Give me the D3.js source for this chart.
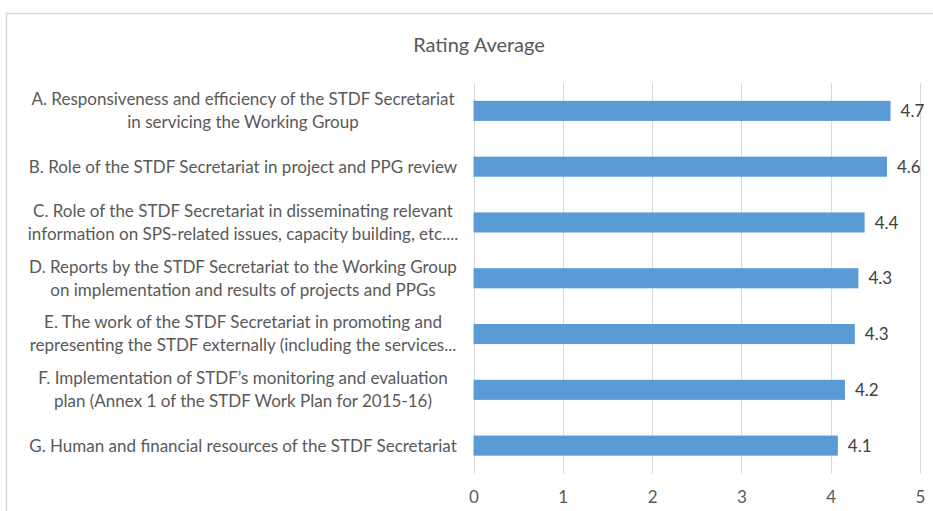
<!DOCTYPE html>
<html><head><meta charset="utf-8">
<script src="https://cdn.jsdelivr.net/npm/d3@7"></script>
<style>body{margin:0;background:#fff}svg{display:block}text{font-family:Lato,"Open Sans",sans-serif}</style>
</head><body><svg id="c" width="933" height="511"></svg>
<script>
const title = "Rating Average";
const categories = [
  "A. Responsiveness and efficiency of the STDF Secretariat\nin servicing the Working Group",
  "B. Role of the STDF Secretariat in project and PPG review",
  "C. Role of the STDF Secretariat in disseminating relevant\ninformation on SPS-related issues, capacity building, etc....",
  "D. Reports by the STDF Secretariat to the Working Group\non implementation and results of projects and PPGs",
  "E. The work of the STDF Secretariat in promoting and\nrepresenting the STDF externally (including the services...",
  "F. Implementation of STDF\u2019s monitoring and evaluation\nplan (Annex 1 of the STDF Work Plan for 2015-16)",
  "G. Human and financial resources of the STDF Secretariat"
];
const values = [4.67, 4.63, 4.38, 4.31, 4.27, 4.16, 4.08];
const valueLabels = ["4.7", "4.6", "4.4", "4.3", "4.3", "4.2", "4.1"];
const xTicks = [0, 1, 2, 3, 4, 5];

const svg = d3.select("#c");
svg.append("rect").attr("x", 6.5).attr("y", 13.5).attr("width", 940).attr("height", 520)
  .attr("fill", "#fff").attr("stroke", "#d9d9d9").attr("stroke-width", 1.5);

const m = {left: 473.5, right: 920, top: 83, bottom: 473.5};
const x = d3.scaleLinear().domain([0, 5]).range([m.left, m.right]);
const y = d3.scaleBand().domain(d3.range(categories.length)).range([m.top, m.bottom]).paddingInner(0.64).paddingOuter(0.32);

svg.append("text").attr("x", 479).attr("y", 52).attr("text-anchor", "middle")
  .attr("font-size", 20).attr("fill", "#595959").text(title);

svg.append("g").selectAll("line").data(xTicks).join("line")
  .attr("x1", d => Math.round(x(d)) + 0.5).attr("x2", d => Math.round(x(d)) + 0.5)
  .attr("y1", m.top).attr("y2", m.bottom).attr("stroke", "#d9d9d9").attr("stroke-width", 1);

const ax = svg.append("g").attr("transform", `translate(0,${m.bottom})`)
  .call(d3.axisBottom(x).tickValues(xTicks).tickFormat(d3.format("d")).tickSize(0).tickPadding(17));
ax.select(".domain").remove();
ax.selectAll("text").attr("font-size", 17).attr("fill", "#595959").attr("font-family", "Lato,'Open Sans',sans-serif");

svg.append("g").selectAll("rect").data(values).join("rect")
  .attr("x", x(0)).attr("y", (d, i) => y(i)).attr("width", d => x(d) - x(0)).attr("height", y.bandwidth())
  .attr("fill", "#5b9bd5");

svg.append("g").selectAll("text").data(values).join("text")
  .attr("x", d => x(d) + 10).attr("y", (d, i) => y(i) + y.bandwidth() / 2).attr("dy", "0.36em")
  .attr("font-size", 17).attr("fill", "#404040").text((d, i) => valueLabels[i]);

const lab = svg.append("g").selectAll("text").data(categories).join("text")
  .attr("text-anchor", "middle").attr("font-size", 17).attr("fill", "#595959")
  .attr("transform", (d, i) => `translate(243,${y(i) + y.bandwidth() / 2})`);
lab.each(function(d) {
  const lines = d.split("\n");
  const lh = 23;
  const t = d3.select(this);
  lines.forEach((l, k) => {
    t.append("tspan").attr("x", 0).attr("y", (k - (lines.length - 1) / 2) * lh).attr("dy", "0.35em").text(l);
  });
});
</script></body></html>
